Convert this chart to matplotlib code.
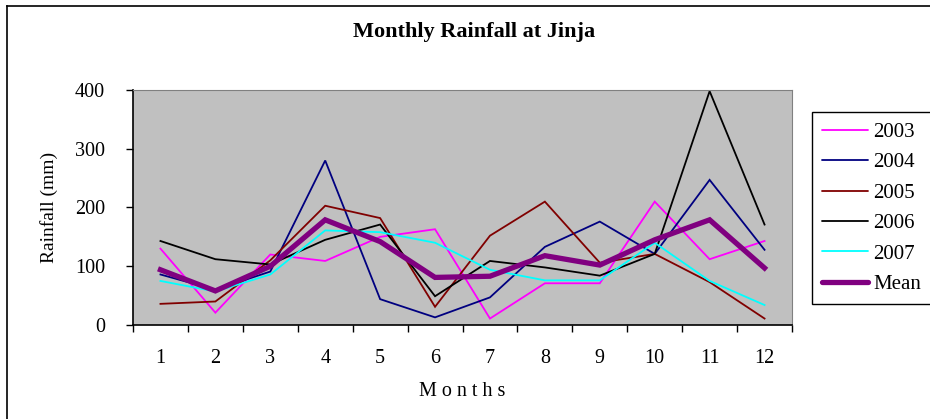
import matplotlib
matplotlib.use("Agg")
import matplotlib.pyplot as plt
from matplotlib.lines import Line2D

months = list(range(1, 13))

rain_2003 = [130, 21, 120, 109, 150, 163, 11, 71, 71, 210, 112, 143]
rain_2004 = [86, 60, 91, 280, 44, 13, 47, 133, 176, 121, 247, 128]
rain_2005 = [36, 40, 110, 203, 182, 31, 152, 210, 106, 121, 73, 11]
rain_2006 = [143, 112, 103, 145, 171, 49, 109, 98, 84, 121, 398, 171]
rain_2007 = [75, 57, 86, 161, 158, 140, 94, 76, 76, 140, 75, 34]
rain_mean = [94, 58, 100, 179, 142, 81, 83, 118, 102, 145, 179, 97]

series = [
    ("2003", rain_2003, "#FF00FF", 1.3),
    ("2004", rain_2004, "#000080", 1.3),
    ("2005", rain_2005, "#800000", 1.3),
    ("2006", rain_2006, "#000000", 1.3),
    ("2007", rain_2007, "#00FFFF", 1.3),
    ("Mean", rain_mean, "#800080", 3.8),
]

plt.rcParams["font.family"] = ["Liberation Serif", "DejaVu Serif"]

fig = plt.figure(figsize=(9.3, 4.19), dpi=100)
ax = fig.add_axes([133 / 930, 1 - 325 / 419, 659 / 930, 235 / 419])
ax.set_facecolor("#C0C0C0")

handles = []
for nama, nilai, warna, lebar in series:
    ax.plot(months, nilai, color=warna, linewidth=lebar, solid_joinstyle="miter")
    handles.append(Line2D([0], [0], color=warna, linewidth=lebar,
                          solid_capstyle="round"))

ax.set_xlim(0.5, 12.5)
ax.set_ylim(0, 400)
ax.set_yticks([0, 100, 200, 300, 400])
ax.set_xticks(months)
ax.set_xticks([m + 0.5 for m in range(0, 13)], minor=True)
ax.tick_params(axis="x", which="major", length=0, pad=17, labelsize=14.5)
ax.tick_params(axis="x", which="minor", length=5, width=1, direction="out")
ax.tick_params(axis="y", length=5, width=1, direction="out", pad=15, labelsize=14.5)

for side in ["top", "right"]:
    ax.spines[side].set_color("#808080")
for side in ["left", "bottom"]:
    ax.spines[side].set_color("#000000")
    ax.spines[side].set_linewidth(1.2)

ax.set_ylabel("Rainfall (mm)", fontsize=14, labelpad=12)
ax.set_xlabel("M o n t h s", fontsize=14.5, labelpad=10)

fig.text(474 / 930, 1 - 32 / 419, "Monthly Rainfall at Jinja",
         ha="center", va="center", fontsize=16, fontweight="bold")

leg = fig.legend(handles, [s[0] for s in series],
                 loc="upper left", bbox_to_anchor=(812 / 930, 1 - 112 / 419),
                 fontsize=15, frameon=True, fancybox=False, edgecolor="black",
                 framealpha=1, handlelength=2.2, handletextpad=0.25,
                 labelspacing=0.52, borderpad=0.5, borderaxespad=0)
leg.get_frame().set_linewidth(1)

# garis tepi gambar (kiri dan atas saja, seperti di referensi)
fig.add_artist(Line2D([7 / 930, 7 / 930], [0, 1 - 6 / 419], color="black", linewidth=1.2,
                      transform=fig.transFigure))
fig.add_artist(Line2D([7 / 930, 1], [1 - 6 / 419, 1 - 6 / 419], color="black", linewidth=1.2,
                      transform=fig.transFigure))

fig.savefig("out.png", dpi=100)
